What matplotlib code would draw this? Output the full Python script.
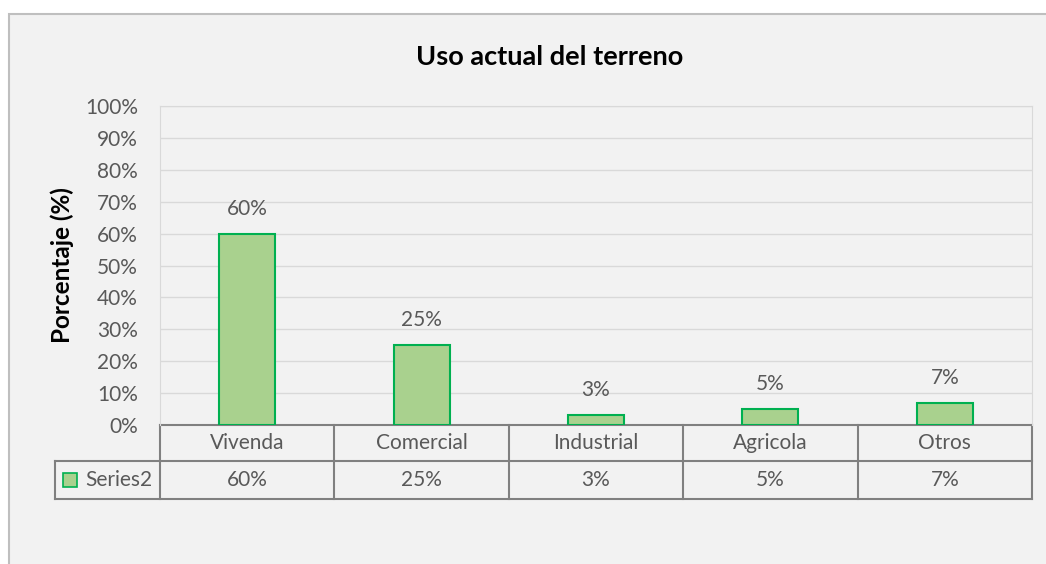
import matplotlib.pyplot as plt
from matplotlib.patches import Rectangle
from matplotlib.ticker import MultipleLocator, PercentFormatter

categorias = ["Vivenda", "Comercial", "Industrial", "Agricola", "Otros"]
valores = [0.60, 0.25, 0.03, 0.05, 0.07]
etiquetas = ["60%", "25%", "3%", "5%", "7%"]
serie = "Series2"
titulo = "Uso actual del terreno"
ylabel = "Porcentaje (%)"

plt.rcParams['font.family'] = ['Lato', 'DejaVu Sans']
gris_txt = '#595959'
gris_tabla = '#808080'
verde = '#a9d18e'
verde_borde = '#00b050'

W, H = 1046, 564
fig = plt.figure(figsize=(W / 100, H / 100), dpi=100, facecolor='white')

# marco del grafico (se sale por la derecha y abajo)
fig.patches.append(Rectangle((9 / W, -0.1), 1.2, 0.1 + (H - 14) / H,
                             transform=fig.transFigure, facecolor='#f2f2f2',
                             edgecolor='#bfbfbf', linewidth=1.5, zorder=-5))

ax = fig.add_axes([160 / W, (H - 425) / H, 872 / W, 319 / H])
ax.set_facecolor('none')
x = range(len(categorias))
ax.bar(x, valores, width=0.32, color=verde, edgecolor=verde_borde,
       linewidth=1.5, zorder=3)
for xi, v, t in zip(x, valores, etiquetas):
    ax.annotate(t, (xi, v), xytext=(0, 18), textcoords='offset points',
                ha='center', va='center', fontsize=15, color=gris_txt)

ax.set_xlim(-0.5, len(categorias) - 0.5)
ax.set_ylim(0, 1)
ax.yaxis.set_major_locator(MultipleLocator(0.1))
ax.yaxis.set_major_formatter(PercentFormatter(1.0, decimals=0))
ax.yaxis.grid(True, color='#d9d9d9', linewidth=1)
ax.set_axisbelow(True)
ax.set_xticks([])
ax.tick_params(axis='y', length=0, pad=16, labelsize=15, labelcolor=gris_txt)
for s in ['top', 'right', 'left']:
    ax.spines[s].set_color('#d9d9d9')
ax.spines['bottom'].set_visible(False)

# tabla de datos bajo el eje
n = len(categorias)
y1 = -36 / 319
y2 = -74 / 319
xl = -105 / 872
kw = dict(transform=ax.transAxes, clip_on=False, color=gris_tabla, linewidth=1.5)
ax.plot([0, 1], [0, 0], **kw)
ax.plot([xl, 1], [y1, y1], **kw)
ax.plot([xl, 1], [y2, y2], **kw)
ax.plot([xl, xl], [y1, y2], **kw)
for i in range(n + 1):
    ax.plot([i / n, i / n], [0, y2], **kw)
for i in range(n):
    ax.text((i + 0.5) / n, y1 / 2, categorias[i], transform=ax.transAxes,
            ha='center', va='center', fontsize=15, color=gris_txt)
    ax.text((i + 0.5) / n, (y1 + y2) / 2, etiquetas[i], transform=ax.transAxes,
            ha='center', va='center', fontsize=15, color=gris_txt)
ax.add_patch(Rectangle((-97 / 872, (y1 + y2) / 2 - 7 / 319), 14 / 872, 14 / 319,
                       transform=ax.transAxes, clip_on=False, facecolor=verde,
                       edgecolor=verde_borde, linewidth=1.2))
ax.text(-8 / 872, (y1 + y2) / 2, serie, transform=ax.transAxes,
        ha='right', va='center', fontsize=15, color=gris_txt)

fig.text(550 / W, 1 - 57 / H, titulo, ha='center', va='center',
         fontsize=19.5, fontweight='bold', color='black')
fig.text(62 / W, 1 - 265 / H, ylabel, ha='center', va='center', rotation=90,
         fontsize=17.5, fontweight='bold', color='black')

fig.savefig('out.png', dpi=100, facecolor='white')
